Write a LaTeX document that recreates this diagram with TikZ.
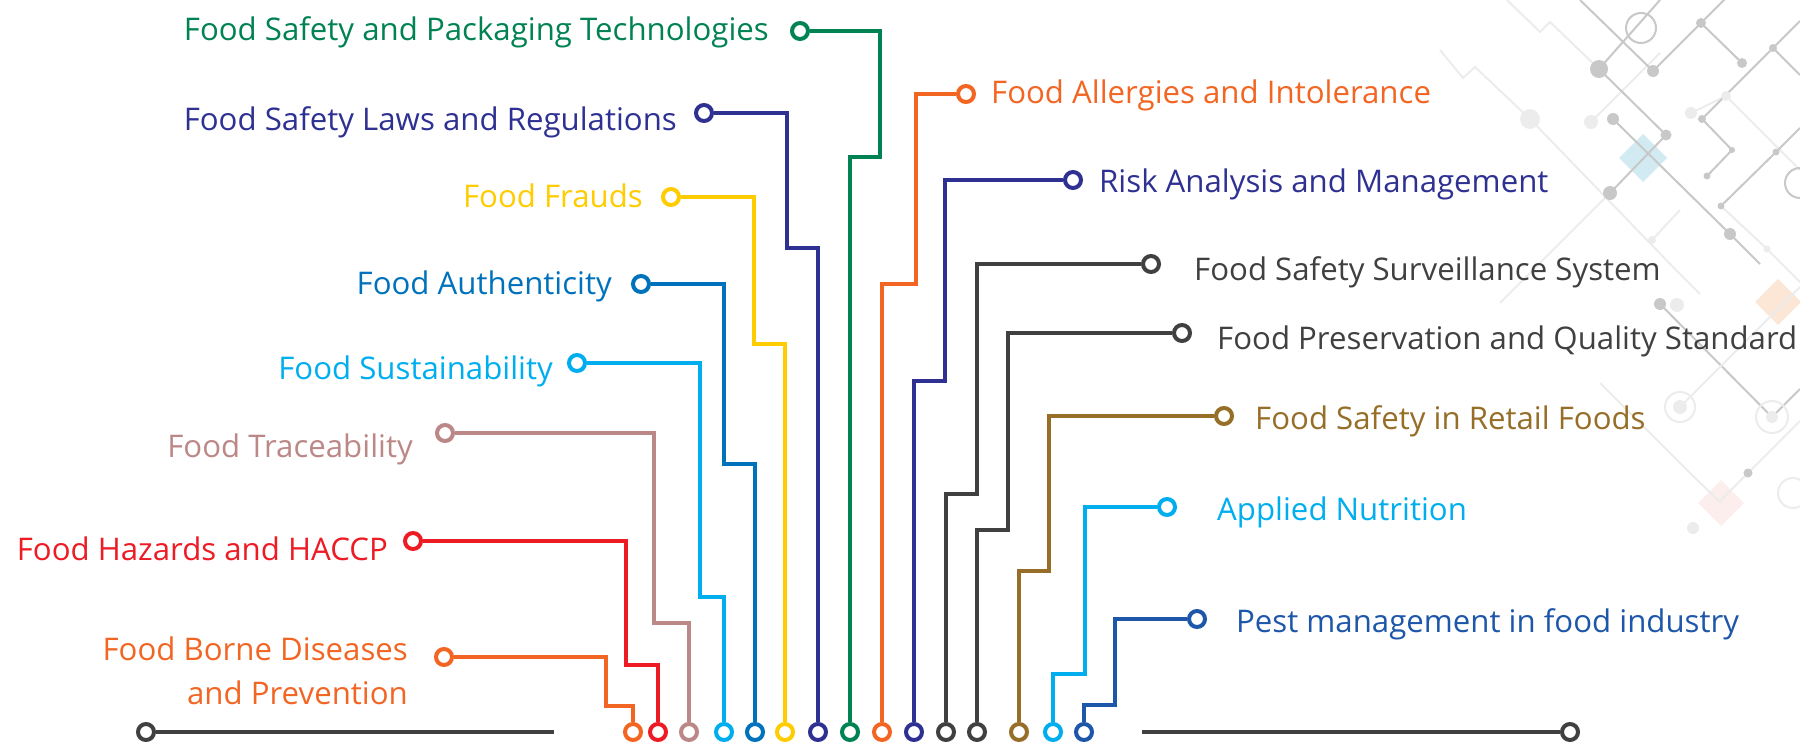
\documentclass[tikz,border=0pt]{standalone}
\usepackage{fontspec}
\setmainfont{Open Sans}
\definecolor{pkgreen}{RGB}{0,130,82}
\definecolor{lawnavy}{RGB}{46,49,146}
\definecolor{fraudyellow}{RGB}{255,204,0}
\definecolor{authblue}{RGB}{0,114,188}
\definecolor{sustcyan}{RGB}{0,174,239}
\definecolor{tracerose}{RGB}{188,135,135}
\definecolor{hazred}{RGB}{237,28,36}
\definecolor{borneorange}{RGB}{242,101,34}
\definecolor{survgray}{RGB}{64,64,64}
\definecolor{retailbrown}{RGB}{150,110,40}
\definecolor{pestblue}{RGB}{30,87,170}
\definecolor{decogray}{RGB}{200,200,200}
\definecolor{decofaint}{RGB}{236,236,236}
\definecolor{decoblue}{RGB}{210,235,243}
\definecolor{decopeach}{RGB}{252,230,214}
\definecolor{decopink}{RGB}{252,238,236}

\begin{document}
\begin{tikzpicture}[x=1pt, y=-1pt,
  wire/.style={line width=4pt, draw=#1},
  pad/.style={circle, draw=#1, line width=4pt, fill=white, minimum size=16pt, inner sep=0pt},
  lbl/.style={text=#1, font=\fontsize{31.2}{44}\selectfont, inner sep=0pt},
  trace/.style={line width=2pt, draw=#1},
]
\useasboundingbox (0,0) rectangle (1800,742);

% background circuit, top right
\fill[decoblue]  (1643,134) -- ++(24,24) -- ++(-24,24) -- ++(-24,-24) -- cycle;
\fill[decopeach] (1778,279) -- ++(23,23) -- ++(-23,23) -- ++(-23,-23) -- cycle;
\fill[decopink]  (1721,480) -- ++(23,23) -- ++(-23,23) -- ++(-23,-23) -- cycle;
\draw[trace=decofaint]
     (1507,0) -- (1540,32) -- (1550,22) -- (1599,69);
\draw[trace=decofaint]
     (1440,50) -- (1463,78) -- (1475,67) -- (1530,119) -- (1673,267) -- (1700,294);
\draw[trace=decofaint] (1591,122) -- (1660,53);
\draw[trace=decofaint] (1691,113) -- (1726,96) -- (1800,170);
\draw[trace=decofaint] (1652,240) -- (1680,210);
\draw[trace=decofaint] (1721,206) -- (1767,249) -- (1800,282);
\draw[trace=decofaint] (1600,383) -- (1690,473) -- (1721,503);
\draw[trace=decofaint] (1610,193) -- (1540,263) -- (1500,303);
\draw[trace=decogray] (1580,0) -- (1653,71) -- (1701,23) -- (1728,-4);
\draw[trace=decogray] (1701,23) -- (1742,63);
\draw[trace=decogray] (1660,0) -- (1599,69) -- (1666,135) -- (1610,193);
\draw[trace=decogray] (1613,119) -- (1730,234) -- (1760,264);
\draw[trace=decogray] (1800,21) -- (1773,48) -- (1702,119) -- (1732,150) -- (1707,176);
\draw[trace=decogray] (1773,48) -- (1800,75);
\draw[trace=decogray] (1800,128) -- (1776,152) -- (1721,206);
\draw[trace=decogray] (1660,304) -- (1772,417) -- (1800,389);
\draw[trace=decofaint] (1680,407) -- (1800,287);
\draw[trace=decofaint] (1800,421) -- (1748,473) -- (1721,500);
\draw[trace=decogray] (1641,28) circle[radius=15];
\draw[trace=decogray] (1800,183) circle[radius=15];
\draw[trace=decofaint] (1680,407) circle[radius=15];
\draw[trace=decofaint] (1772,417) circle[radius=16];
\draw[trace=decofaint] (1793,493) circle[radius=15];
\foreach \x/\y/\r in {1599/69/18, 1653/71/12, 1701/23/10, 1742/63/10, 1666/135/11,
  1610/193/14, 1613/119/12, 1730/234/12, 1773/48/8, 1702/119/8, 1732/150/6,
  1707/176/7, 1776/152/7, 1721/206/7, 1660/304/12, 1748/473/9}
  \fill[decogray] (\x,\y) circle[radius=\r/2];
\foreach \x/\y/\r in {1530/119/20, 1591/122/14, 1691/113/12, 1726/96/10, 1652/240/8,
  1767/249/7, 1677/305/14, 1680/407/14, 1772/417/12, 1693/528/12}
  \fill[decofaint] (\x,\y) circle[radius=\r/2];

% bottom rail
\node[pad=survgray] (padL) at (146,732) {};
\node[pad=survgray] (padR) at (1570,732) {};
\coordinate (railL) at (554,732);
\coordinate (railR) at (1142,732);
\draw[wire=survgray] (padL) -- (railL);
\draw[wire=survgray] (railR) -- (padR);

% left side topics
\node[pad=pkgreen]      (tPack)  at (800,31)  {};
\node[pad=lawnavy]      (tLaws)  at (704,113) {};
\node[pad=fraudyellow]  (tFraud) at (671,197) {};
\node[pad=authblue]     (tAuth)  at (641,284) {};
\node[pad=sustcyan]     (tSust)  at (577,363) {};
\node[pad=tracerose]    (tTrace) at (445,433) {};
\node[pad=hazred]       (tHaz)   at (413,541) {};
\node[pad=borneorange]  (tBorne) at (444,657) {};

% right side topics
\node[pad=borneorange]  (tAllerg) at (966,94)   {};
\node[pad=lawnavy]      (tRisk)   at (1073,180) {};
\node[pad=survgray]     (tSurv)   at (1151,264) {};
\node[pad=survgray]     (tPres)   at (1182,333) {};
\node[pad=retailbrown]  (tRetail) at (1224,416) {};
\node[pad=sustcyan]     (tNutr)   at (1167,507) {};
\node[pad=pestblue]     (tPest)   at (1197,619) {};

% bottom pads
\node[pad=borneorange]  (bBorne)  at (633,732)  {};
\node[pad=hazred]       (bHaz)    at (658,732)  {};
\node[pad=tracerose]    (bTrace)  at (689,732)  {};
\node[pad=sustcyan]     (bSust)   at (724,732)  {};
\node[pad=authblue]     (bAuth)   at (755,732)  {};
\node[pad=fraudyellow]  (bFraud)  at (785,732)  {};
\node[pad=lawnavy]      (bLaws)   at (818,732)  {};
\node[pad=pkgreen]      (bPack)   at (850,732)  {};
\node[pad=borneorange]  (bAllerg) at (882,732)  {};
\node[pad=lawnavy]      (bRisk)   at (914,732)  {};
\node[pad=survgray]     (bSurv)   at (946,732)  {};
\node[pad=survgray]     (bPres)   at (977,732)  {};
\node[pad=retailbrown]  (bRetail) at (1019,732) {};
\node[pad=sustcyan]     (bNutr)   at (1053,732) {};
\node[pad=pestblue]     (bPest)   at (1084,732) {};

% wires
\draw[wire=pkgreen]     (tPack)   -| ++(80,126)   -| (bPack);
\draw[wire=lawnavy]     (tLaws)   -| ++(83,135)   -| (bLaws);
\draw[wire=fraudyellow] (tFraud)  -| ++(83,147)   -| (bFraud);
\draw[wire=authblue]    (tAuth)   -| ++(83,180)   -| (bAuth);
\draw[wire=sustcyan]    (tSust)   -| ++(123,234)  -| (bSust);
\draw[wire=tracerose]   (tTrace)  -| ++(209,190)  -| (bTrace);
\draw[wire=hazred]      (tHaz)    -| ++(213,124)  -| (bHaz);
\draw[wire=borneorange] (tBorne)  -| ++(162,49)   -| (bBorne);
\draw[wire=borneorange] (tAllerg) -| ++(-50,190)  -| (bAllerg);
\draw[wire=lawnavy]     (tRisk)   -| ++(-128,201) -| (bRisk);
\draw[wire=survgray]    (tSurv)   -| ++(-174,230) -| (bSurv);
\draw[wire=survgray]    (tPres)   -| ++(-174,197) -| (bPres);
\draw[wire=retailbrown] (tRetail) -| ++(-175,155) -| (bRetail);
\draw[wire=sustcyan]    (tNutr)   -| ++(-82,167)  -| (bNutr);
\draw[wire=pestblue]    (tPest)   -| ++(-82,86)   -| (bPest);

% labels
\node[lbl=pkgreen, anchor=base east]     (lPack)  at (769,40)  {Food Safety and Packaging Technologies};
\node[lbl=lawnavy, anchor=base east]     (lLaws)  at (677,130) {Food Safety Laws and Regulations};
\node[lbl=fraudyellow, anchor=base east] (lFraud) at (643,207) {Food Frauds};
\node[lbl=authblue, anchor=base east]    (lAuth)  at (612,294) {Food Authenticity};
\node[lbl=sustcyan, anchor=base east]    (lSust)  at (553,379) {Food Sustainability};
\node[lbl=tracerose, anchor=base east]   (lTrace) at (413,457) {Food Traceability};
\node[lbl=hazred, anchor=base east]      (lHaz)   at (388,560) {Food Hazards and HACCP};
\node[lbl=borneorange, anchor=base east, align=right] (lBorne) at (408,704) {Food Borne Diseases\\and Prevention};
\node[lbl=borneorange, anchor=base west] (lAllerg) at (991,103)  {Food Allergies and Intolerance};
\node[lbl=lawnavy, anchor=base west]     (lRisk)   at (1099,192) {Risk Analysis and Management};
\node[lbl=survgray, anchor=base west]    (lSurv)   at (1194,280) {Food Safety Surveillance System};
\node[lbl=survgray, anchor=base west]    (lPres)   at (1217,349) {Food Preservation and Quality Standard};
\node[lbl=retailbrown, anchor=base west] (lRetail) at (1255,429) {Food Safety in Retail Foods};
\node[lbl=sustcyan, anchor=base west]    (lNutr)   at (1217,520) {Applied Nutrition};
\node[lbl=pestblue, anchor=base west]    (lPest)   at (1236,632) {Pest management in food industry};
\end{tikzpicture}
\end{document}
